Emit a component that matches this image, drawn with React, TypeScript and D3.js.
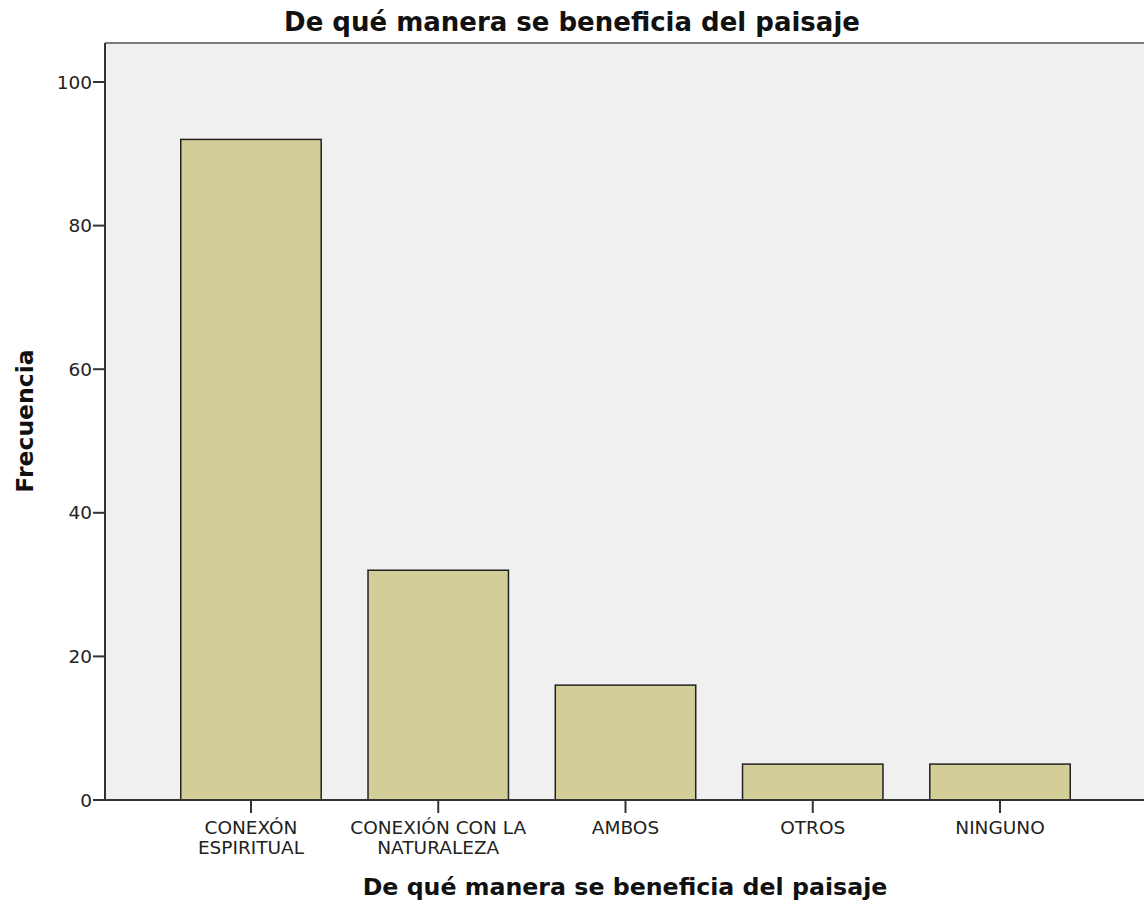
import React from "react";
import * as d3 from "d3";

const categories: string[][] = [
  ["CONEXÓN", "ESPIRITUAL"],
  ["CONEXIÓN CON LA", "NATURALEZA"],
  ["AMBOS"],
  ["OTROS"],
  ["NINGUNO"],
];
const frequencies: number[] = [92, 32, 16, 5, 5];
const yTicks: number[] = [0, 20, 40, 60, 80, 100];
const title = "De qué manera se beneficia del paisaje";
const xTitle = "De qué manera se beneficia del paisaje";
const yTitle = "Frecuencia";

const W = 1144;
const H = 905;
const plotLeft = 105;
const plotTop = 43;
const plotBottom = 800;
const plotRight = 1160;
const FONT = "'DejaVu Sans', 'Noto Sans', sans-serif";

export default function App() {
  React.useEffect(() => {
    document.body.style.margin = "0";
  }, []);
  const keys = categories.map((c) => c.join(" "));
  const x = d3
    .scaleBand<string>()
    .domain(keys)
    .range([157.35, 1093.65])
    .paddingInner(0.25)
    .paddingOuter(0.125);
  const y = d3.scaleLinear().domain([0, 100]).range([plotBottom, 82]);

  return (
    <svg width={W} height={H} style={{ position: "absolute", left: 0, top: 0, background: "#fff" }} fontFamily={FONT}>
      <rect x={plotLeft} y={plotTop} width={plotRight - plotLeft} height={plotBottom - plotTop} fill="#f0f0f0" />
      <line x1={plotLeft} x2={plotRight} y1={plotTop} y2={plotTop} stroke="#7a7a7a" strokeWidth={2} />
      {keys.map((k, i) => (
        <rect
          key={k}
          x={x(k)}
          y={y(frequencies[i])}
          width={x.bandwidth()}
          height={y(0) - y(frequencies[i])}
          fill="#d3ce97"
          stroke="#222"
          strokeWidth={1.5}
        />
      ))}
      <line x1={plotLeft} x2={plotLeft} y1={plotTop} y2={plotBottom + 1} stroke="#333" strokeWidth={2} />
      <line x1={plotLeft} x2={plotRight} y1={plotBottom} y2={plotBottom} stroke="#333" strokeWidth={2} />
      {yTicks.map((t) => (
        <g key={t}>
          <line x1={plotLeft - 12} x2={plotLeft} y1={y(t)} y2={y(t)} stroke="#333" strokeWidth={2} />
          <text x={plotLeft - 13} y={y(t)} dy="0.36em" textAnchor="end" fontSize={18.5} fill="#222">
            {t}
          </text>
        </g>
      ))}
      {keys.map((k, i) => {
        const cx = (x(k) as number) + x.bandwidth() / 2;
        return (
          <g key={k}>
            <line x1={cx} x2={cx} y1={plotBottom} y2={plotBottom + 13} stroke="#333" strokeWidth={2} />
            {categories[i].map((line, j) => (
              <text key={j} x={cx} y={834 + j * 20} textAnchor="middle" fontSize={18.5} fill="#222">
                {line}
              </text>
            ))}
          </g>
        );
      })}
      <text x={572} y={31} textAnchor="middle" fontSize={26} fontWeight="bold" fill="#111">
        {title}
      </text>
      <text x={625} y={895} textAnchor="middle" fontSize={23.7} fontWeight="bold" fill="#111">
        {xTitle}
      </text>
      <text
        transform={`translate(33, 421) rotate(-90)`}
        textAnchor="middle"
        fontSize={23.5}
        fontWeight="bold"
        fill="#111"
      >
        {yTitle}
      </text>
    </svg>
  );
}
